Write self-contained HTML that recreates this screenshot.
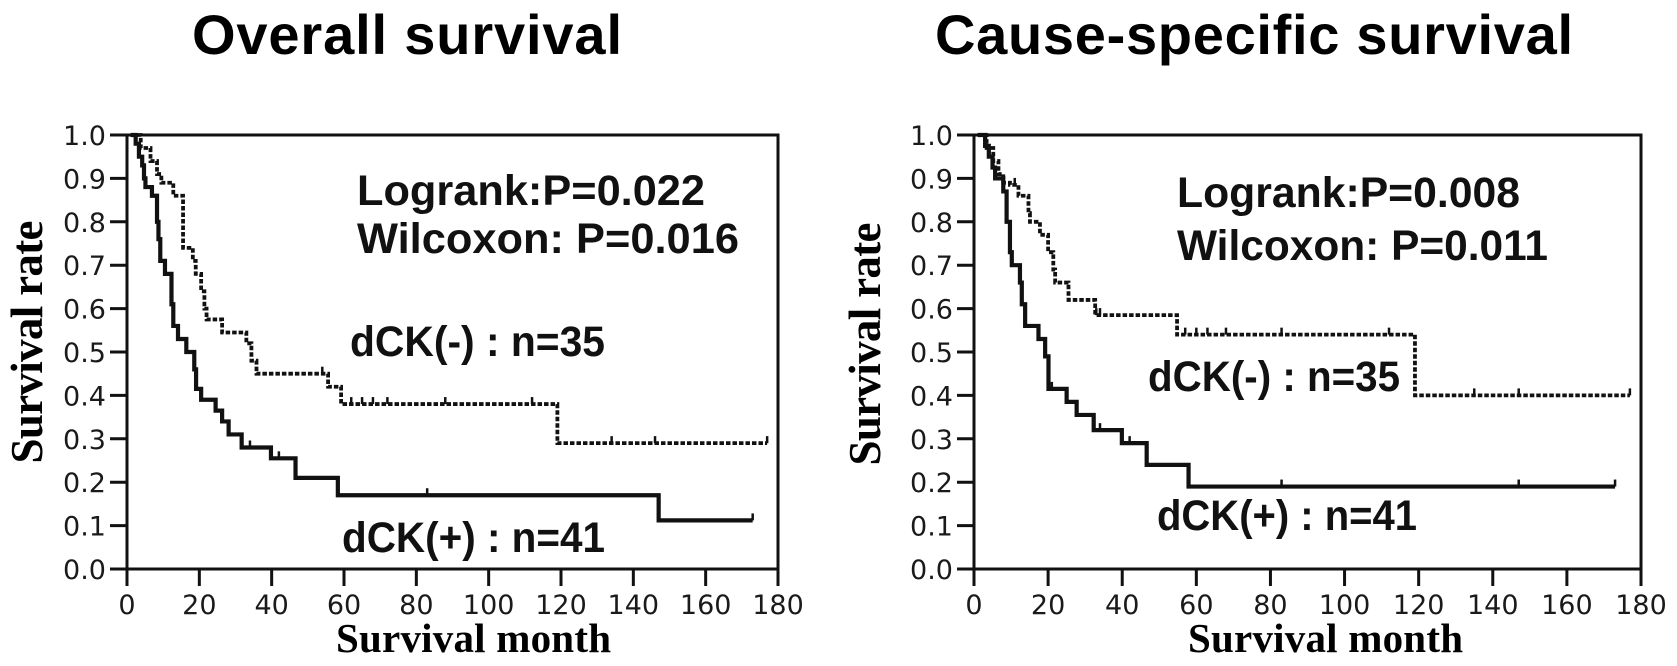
<!DOCTYPE html>
<html><head><meta charset="utf-8"><style>
html,body{margin:0;padding:0;background:#fff;}
svg{display:block;}
</style></head><body>
<svg id="fig" width="1677" height="666" xmlns="http://www.w3.org/2000/svg">
<text x="407" y="54" font-family="Liberation Sans, sans-serif" font-weight="bold" font-size="56" text-anchor="middle" textLength="430">Overall survival</text>
<text x="1254" y="54" font-family="Liberation Sans, sans-serif" font-weight="bold" font-size="56" text-anchor="middle" textLength="638">Cause-specific survival</text>
</svg>
<script>
// ---------- data ----------
const xTicks = [0,20,40,60,80,100,120,140,160,180];
const yTicks = [0.0,0.1,0.2,0.3,0.4,0.5,0.6,0.7,0.8,0.9,1.0];

const osNegTimes = [1,3.8,6.5,8.3,9.5,12.8,15.5,18.2,19,20.5,21.4,22,26.3,33,34.4,35.8,55.6,59.2,119];
const osNegSurv  = [1,0.97,0.94,0.91,0.89,0.86,0.74,0.71,0.68,0.64,0.6,0.575,0.545,0.52,0.48,0.45,0.42,0.38,0.29];
const osNegEnd = 177;
const osNegCensor = [54,62,65,68,72,88,112,134,146,177];

const osPosTimes = [1,2.4,3.3,4.2,4.7,5.1,6.9,8.3,8.7,9.2,10.5,12.3,12.8,14.1,16.4,18.6,19.1,20.5,24.5,26.3,28.1,31.7,39.8,46.6,58.3,147];
const osPosSurv  = [1,0.98,0.95,0.93,0.9,0.88,0.86,0.8,0.76,0.71,0.68,0.61,0.56,0.53,0.5,0.46,0.415,0.39,0.365,0.34,0.31,0.28,0.255,0.21,0.17,0.112];
const osPosEnd = 173;
const osPosCensor = [34,42,83,173];

const csNegTimes = [1,3.4,5.2,6.6,7.9,9.7,12,14.7,15.1,17.8,20,21.4,21.9,25.5,32.7,54.8,119];
const csNegSurv  = [1,0.97,0.94,0.91,0.89,0.885,0.86,0.82,0.8,0.77,0.73,0.69,0.66,0.62,0.585,0.54,0.40];
const csNegEnd = 177;
const csNegCensor = [8,11,33,34,57,60,63,68,83,112,135,147,177];

const csPosTimes = [1,3,4,5,5.7,7.9,8.8,9.7,10.2,12.4,12.9,13.8,17.4,19.2,20.1,25,27.7,32.3,39.9,46.6,57.9];
const csPosSurv  = [1,0.975,0.95,0.925,0.9,0.87,0.8,0.73,0.7,0.66,0.61,0.56,0.53,0.49,0.415,0.385,0.355,0.32,0.29,0.24,0.19];
const csPosEnd = 173;
const csPosCensor = [21,34,42,83,147,173];

// ---------- drawing ----------
const NS = "http://www.w3.org/2000/svg";
const svg = document.getElementById('fig');
function mk(tag, attrs, parent){
  const e = document.createElementNS(NS, tag);
  for (const k in attrs) e.setAttribute(k, attrs[k]);
  (parent||svg).appendChild(e);
  return e;
}
function survAt(times, surv, t){
  let s = surv[0];
  for (let i=0;i<times.length;i++){ if (times[i] <= t) s = surv[i]; }
  return s;
}

function panel(p){
  const x0=p.left, x1=p.right, y0=p.bottom, y1=p.top;
  const X = v => x0 + (v/180)*(x1-x0);
  const Y = v => y0 - v*(y0-y1);
  const g = mk('g', {});
  
  

  const frame = mk('rect', {x:x0, y:y1, width:x1-x0, height:y0-y1, fill:'none', stroke:'#111', 'stroke-width':3}, g);
  
  

  yTicks.forEach(v=>{
    const t = mk('line', {x1:x0-17, x2:x0, y1:Y(v), y2:Y(v), stroke:'#111', 'stroke-width':3}, g);
    
    
    const l = mk('text', {x:x0-21, y:Y(v)+10, 'font-family':'DejaVu Sans, sans-serif', 'font-size':27, 'text-anchor':'end', fill:'#1a1a1a'}, g);
    l.textContent = v.toFixed(1);
    
    
  });
  xTicks.forEach(v=>{
    const t = mk('line', {x1:X(v), x2:X(v), y1:y0, y2:y0+17, stroke:'#111', 'stroke-width':3}, g);
    
    
    const l = mk('text', {x:X(v), y:614, 'font-family':'DejaVu Sans, sans-serif', 'font-size':27, 'text-anchor':'middle', fill:'#1a1a1a'}, g);
    l.textContent = v;
    
    
  });

  const yt = mk('text', {x:0, y:0, transform:`translate(${p.ytX},${p.ytY}) rotate(-90)`, 'font-family':'Liberation Serif, serif', 'font-weight':'bold', 'font-size':45, 'text-anchor':'middle', textLength:243, 'xml:space':'preserve'}, g);
  yt.textContent = 'Survival  rate';
  
  

  const xt = mk('text', {x:p.xtX, y:652, 'font-family':'Liberation Serif, serif', 'font-weight':'bold', 'font-size':41, textLength:275}, g);
  xt.textContent = 'Survival month';
  
  

  function curve(times, surv, end, censor, dashed, name){
    let d = `M${X(times[0])},${Y(surv[0])}`;
    for (let i=1;i<times.length;i++){
      d += ` H${X(times[i])} V${Y(surv[i])}`;
    }
    d += ` H${X(end)}`;
    const path = mk('path', {d:d, fill:'none', stroke:'#111', 'stroke-width':dashed?3.8:4.2,
      'stroke-dasharray': dashed?'4.5 2':'none', 'stroke-linejoin':'miter'}, g);
    
    
    censor.forEach(c=>{
      const s = survAt(times, surv, c);
      const m = mk('line', {x1:X(c), x2:X(c), y1:Y(s), y2:Y(s)-7, stroke:'#111', 'stroke-width':2.5}, g);
      
      
    });
  }
  curve(p.negT, p.negS, p.negE, p.negC, true, 'dck-negative-curve');
  curve(p.posT, p.posS, p.posE, p.posC, false, 'dck-positive-curve');

  function label(txt, x, y, len, name){
    const t = mk('text', {x:x, y:y, 'font-family':'Liberation Sans, sans-serif', 'font-weight':'bold', 'font-size':43, textLength:len, lengthAdjust:'spacingAndGlyphs', fill:'#111'}, g);
    t.textContent = txt;
    
    
  }
  label(p.lr, p.lrX, p.lrY, p.lrW, 'logrank-text');
  label(p.wc, p.lrX, p.wcY, p.wcW, 'wilcoxon-text');
  label('dCK(-) : n=35', p.negX, p.negY, p.negW, 'dck-negative-label');
  label('dCK(+) : n=41', p.posX, p.posY, p.posW, 'dck-positive-label');
}

panel({name:'overall-survival-panel', left:127, right:778, top:135, bottom:569,
  ytX:42, ytY:342, xtX:336,
  negT:osNegTimes, negS:osNegSurv, negE:osNegEnd, negC:osNegCensor,
  posT:osPosTimes, posS:osPosSurv, posE:osPosEnd, posC:osPosCensor,
  lr:'Logrank:P=0.022', wc:'Wilcoxon: P=0.016', lrX:357, lrY:205, lrW:348, wcY:253, wcW:382,
  negX:350, negY:356, negW:255, posX:342, posY:552, posW:263});

panel({name:'cause-specific-survival-panel', left:974, right:1641, top:135, bottom:569,
  ytX:880, ytY:344, xtX:1188,
  negT:csNegTimes, negS:csNegSurv, negE:csNegEnd, negC:csNegCensor,
  posT:csPosTimes, posS:csPosSurv, posE:csPosEnd, posC:csPosCensor,
  lr:'Logrank:P=0.008', wc:'Wilcoxon: P=0.011', lrX:1177, lrY:207, lrW:343, wcY:260, wcW:371,
  negX:1148, negY:391, negW:252, posX:1157, posY:530, posW:260});
</script>
</body></html>
